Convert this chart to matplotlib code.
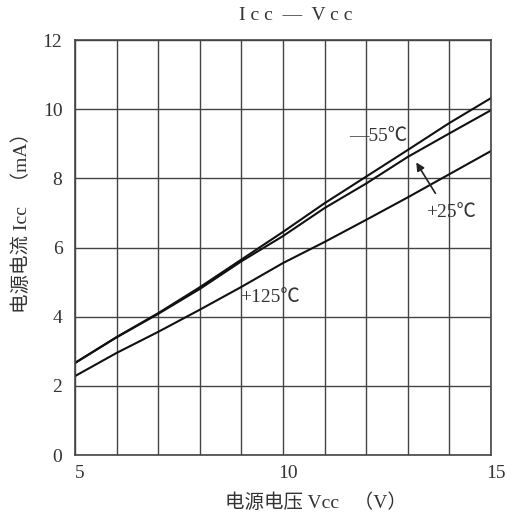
import matplotlib.pyplot as plt
import matplotlib.transforms as mtransforms

plt.rcParams['font.family'] = ['Liberation Serif', 'Noto Sans CJK SC', 'DejaVu Sans']

vcc = [5, 6, 7, 8, 9, 10, 11, 12, 13, 14, 15]
icc_m55 = [2.66, 3.41, 4.10, 4.85, 5.65, 6.45, 7.28, 8.05, 8.82, 9.60, 10.32]
icc_p25 = [2.66, 3.40, 4.08, 4.80, 5.60, 6.33, 7.14, 7.85, 8.62, 9.30, 9.97]
icc_p125 = [2.28, 2.95, 3.56, 4.20, 4.86, 5.55, 6.16, 6.80, 7.45, 8.12, 8.79]

xticks = [5, 10, 15]
yticks = [0, 2, 4, 6, 8, 10, 12]

fig = plt.figure(figsize=(5.13, 5.20), dpi=100)
ax = fig.add_axes([0.146, 0.125, 0.811, 0.798])

ax.plot(vcc, icc_m55, color='#111111', lw=1.5)
ax.plot(vcc, icc_p25, color='#111111', lw=1.5)
ax.plot(vcc, icc_p125, color='#111111', lw=1.5)

ax.set_xlim(5, 15)
ax.set_ylim(0, 12)
ax.set_xticks(range(5, 16))
ax.set_xticklabels([str(v) if v in xticks else '' for v in range(5, 16)])
ax.set_yticks(yticks)
ax.grid(True, color='#444444', lw=1.0)
ax.tick_params(length=0, labelsize=14, colors='#333333')
ax.tick_params(axis='y', pad=9)
ax.tick_params(axis='x', pad=7)
for s in ax.spines.values():
    s.set_color('#444444')
    s.set_linewidth(1.2)

# x tick labels sit a little right of their grid lines in the original
shift = mtransforms.ScaledTranslation(5 / 100, 0, fig.dpi_scale_trans)
for lbl in ax.get_xticklabels():
    lbl.set_transform(lbl.get_transform() + shift)

ax.text(12.3, 9.2, '—55℃', fontsize=14, color='#333333', ha='center', va='center')
ax.text(14.05, 7.0, '+25℃', fontsize=14, color='#333333', ha='center', va='center')
ax.text(9.7, 4.55, '+125℃', fontsize=14, color='#333333', ha='center', va='center')
ax.annotate('', xy=(13.17, 8.53), xytext=(13.7, 7.5),
            arrowprops=dict(arrowstyle='-|>', color='#222222', lw=1.2, mutation_scale=12))

fig.text(0.577, 0.971, 'I c c  —  V c c', fontsize=14, color='#333333', ha='center', va='center')
fig.text(0.615, 0.033, '电源电压 Vcc   （V）', fontsize=14, color='#333333', ha='center', va='center')
fig.text(0.043, 0.58, '电源电流 Icc   （mA）', fontsize=14, color='#333333', ha='center', va='center',
         rotation=90)

plt.savefig('out.png', dpi=100)
plt.close(fig)
